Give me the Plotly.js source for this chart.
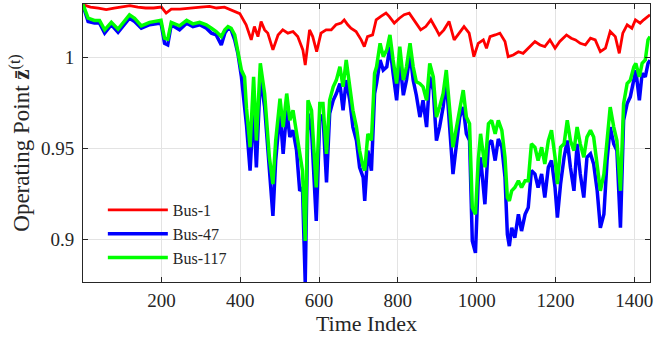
<!DOCTYPE html>
<html>
<head>
<meta charset="utf-8">
<script src="https://cdn.plot.ly/plotly-3.0.1.min.js"></script>
<style>html,body{margin:0;padding:0;background:#fff;}#chart{width:654px;height:341px;}</style>
</head>
<body>
<div id="chart"></div>
<script>
// Shared time index for Bus-47 and Bus-117
const idxBG = [1,14,30,43,56,73,90,106,119,132,149,170,187,199,208,216,225,246,264,280,297,314,327,339,352,361,369,377,386,394,403,411,416,425,434,441,451,462,474,483,490,501,509,518,526,534,543,551,558,565,572,581,593,602,610,619,627,636,644,653,661,669,678,686,695,703,712,716,724,733,741,746,755,763,772,780,788,797,805,814,822,831,839,847,856,864,873,881,890,898,906,915,923,932,940,949,957,966,974,982,989,997,1004,1010,1021,1030,1038,1047,1055,1064,1072,1078,1083,1089,1097,1106,1114,1123,1131,1139,1148,1156,1165,1173,1182,1190,1199,1205,1213,1222,1230,1238,1247,1255,1263,1272,1280,1289,1297,1306,1314,1323,1331,1339,1348,1356,1365,1373,1382,1390,1399,1404,1413,1420,1428,1435,1440];
const bus47 = [1.0285,1.0197,1.0188,1.0188,1.0133,1.0179,1.0138,1.0179,1.0215,1.0197,1.0160,1.0179,1.0184,1.0188,1.0077,1.0068,1.0179,1.0151,1.0188,1.0169,1.0179,1.0160,1.0133,1.0123,1.0068,1.0133,1.0160,1.0151,1.0096,1.0022,0.9893,0.9727,0.9626,0.9378,0.9727,0.9396,0.9893,0.9727,0.9359,0.9129,0.9433,0.9700,0.9470,0.9709,0.9562,0.9599,0.9488,0.9267,0.9285,0.8761,0.9691,0.9599,0.9101,0.9672,0.9681,0.9313,0.9691,0.9764,0.9801,0.9856,0.9709,0.9875,0.9764,0.9617,0.9543,0.9396,0.9341,0.9212,0.9488,0.9378,0.9801,0.9856,0.9985,0.9930,0.9948,1.0059,0.9912,0.9764,0.9985,0.9792,0.9875,1.0022,0.9875,0.9792,0.9672,0.9764,0.9617,0.9893,0.9820,0.9543,0.9617,0.9727,0.9875,0.9580,0.9359,0.9525,0.9672,0.9727,0.9580,0.9543,0.8991,0.8926,0.9322,0.9451,0.9193,0.9525,0.9543,0.9433,0.9552,0.9506,0.9341,0.9028,0.8963,0.9064,0.9009,0.9138,0.9046,0.9138,0.9175,0.9378,0.9359,0.9285,0.9359,0.9230,0.9396,0.9433,0.9285,0.9120,0.9304,0.9451,0.9543,0.9396,0.9267,0.9525,0.9359,0.9230,0.9451,0.9470,0.9414,0.9267,0.9064,0.9138,0.9433,0.9617,0.9525,0.9488,0.9064,0.9654,0.9746,0.9783,0.9875,0.9930,0.9764,0.9912,0.9893,0.9967,0.9985];
const bus117 = [1.0290,1.0215,1.0203,1.0203,1.0151,1.0192,1.0155,1.0197,1.0234,1.0215,1.0173,1.0192,1.0197,1.0203,1.0105,1.0099,1.0192,1.0173,1.0203,1.0184,1.0192,1.0179,1.0160,1.0142,1.0114,1.0151,1.0169,1.0160,1.0123,1.0041,0.9930,0.9893,0.9718,0.9506,0.9893,0.9543,0.9967,0.9801,0.9451,0.9304,0.9543,0.9773,0.9617,0.9801,0.9654,0.9709,0.9580,0.9451,0.9378,0.8991,0.9764,0.9709,0.9285,0.9746,0.9746,0.9470,0.9764,0.9838,0.9875,0.9948,0.9838,0.9985,0.9820,0.9709,0.9617,0.9488,0.9396,0.9378,0.9580,0.9543,0.9912,0.9948,1.0077,1.0004,1.0041,1.0123,0.9985,0.9856,1.0059,0.9875,0.9948,1.0077,0.9948,0.9866,0.9856,0.9838,0.9764,0.9967,0.9893,0.9672,0.9727,0.9801,0.9930,0.9709,0.9506,0.9617,0.9727,0.9820,0.9672,0.9635,0.9175,0.9138,0.9433,0.9580,0.9396,0.9635,0.9654,0.9580,0.9654,0.9599,0.9451,0.9230,0.9212,0.9267,0.9285,0.9322,0.9285,0.9322,0.9322,0.9525,0.9506,0.9433,0.9506,0.9414,0.9543,0.9599,0.9451,0.9304,0.9506,0.9525,0.9654,0.9543,0.9488,0.9617,0.9525,0.9451,0.9562,0.9599,0.9562,0.9396,0.9267,0.9359,0.9543,0.9727,0.9617,0.9543,0.9267,0.9746,0.9856,0.9875,0.9948,0.9967,0.9893,0.9967,0.9985,1.0096,1.0114];
// Bus-1 time index and values
const idxR = [1,20,40,60,80,100,120,140,160,180,200,212,225,247,270,300,322,340,360,373,390,399,415,428,436,445,453,462,470,483,496,508,521,534,546,559,565,576,584,594,605,618,631,643,656,664,673,681,694,707,715,723,736,745,757,770,778,791,804,816,829,846,858,871,884,896,905,917,930,943,955,968,981,993,1004,1017,1025,1034,1047,1059,1072,1080,1093,1106,1118,1135,1148,1161,1173,1186,1199,1211,1228,1240,1251,1263,1276,1289,1301,1314,1327,1339,1352,1362,1371,1382,1394,1403,1415,1424,1440];
const bus1 = [1.0289,1.0276,1.0271,1.0262,1.0271,1.0276,1.0284,1.0276,1.0271,1.0271,1.0276,1.0243,1.0265,1.0265,1.0271,1.0276,1.0280,1.0271,1.0276,1.0265,1.0252,1.0240,1.0179,1.0096,1.0169,1.0114,1.0197,1.0151,1.0133,1.0041,1.0123,1.0151,1.0133,1.0142,1.0114,1.0041,0.9958,1.0151,1.0114,1.0031,1.0133,1.0151,1.0151,1.0179,1.0188,1.0206,1.0179,1.0160,1.0142,1.0096,1.0059,1.0114,1.0123,1.0206,1.0225,1.0243,1.0225,1.0188,1.0215,1.0234,1.0243,1.0188,1.0151,1.0169,1.0206,1.0160,1.0123,1.0151,1.0197,1.0096,1.0133,1.0169,1.0133,1.0004,1.0077,1.0096,1.0050,1.0114,1.0123,1.0133,1.0087,1.0004,1.0013,1.0031,1.0022,1.0059,1.0087,1.0068,1.0059,1.0096,1.0050,1.0087,1.0123,1.0105,1.0096,1.0077,1.0068,1.0105,1.0096,1.0031,1.0050,1.0142,1.0114,1.0022,1.0133,1.0179,1.0160,1.0206,1.0188,1.0206,1.0234];
const seriesNames = ['Bus-1','Bus-47','Bus-117'];
const seriesColors = ['#ff0000','#0000ff','#00ff00'];
const xTicks = [200,400,600,800,1000,1200,1400];
const yTicks = [0.9,0.95,1];
const yTickText = ['0.9','0.95','1'];

const serif = 'Liberation Serif, DejaVu Serif, serif';
const traces = [
  {x: idxR, y: bus1, name: seriesNames[0], type:'scatter', mode:'lines', line:{color:seriesColors[0], width:2.8}},
  {x: idxBG, y: bus47, name: seriesNames[1], type:'scatter', mode:'lines', line:{color:seriesColors[1], width:3.5}},
  {x: idxBG, y: bus117, name: seriesNames[2], type:'scatter', mode:'lines', line:{color:seriesColors[2], width:3.5}}
];
const axisCommon = {showline:true, mirror:'ticks', linecolor:'#262626', linewidth:1, ticks:'inside', ticklen:5, tickcolor:'#262626', showgrid:true, gridcolor:'#e3e3e3', gridwidth:1, zeroline:false, tickfont:{family:serif, size:19, color:'#262626'}};
const layout = {
  width:654, height:341,
  margin:{l:83, r:4, t:4, b:59},
  paper_bgcolor:'#fff', plot_bgcolor:'#fff',
  font:{family:serif, color:'#262626'},
  xaxis: Object.assign({}, axisCommon, {range:[1,1440], tickvals:xTicks, ticklabelstandoff:1, title:{text:'Time Index', font:{family:serif, size:22, color:'#262626'}, standoff:2}}),
  yaxis: Object.assign({}, axisCommon, {range:[0.8766,1.0293], tickvals:yTicks, ticktext:yTickText, ticklabelstandoff:4, title:{text:'Operating Point <b>z\u0304</b><sup>(t)</sup>', font:{family:serif, size:23, color:'#262626'}, standoff:4}}),
  legend:{x:0.035, y:0.32, xanchor:'left', yanchor:'top', bgcolor:'rgba(0,0,0,0)', borderwidth:0, font:{family:serif, size:16, color:'#262626'}, itemwidth:60, tracegroupgap:0},
  showlegend:true
};
Plotly.newPlot('chart', traces, layout, {displayModeBar:false, staticPlot:true});
</script>
</body>
</html>
